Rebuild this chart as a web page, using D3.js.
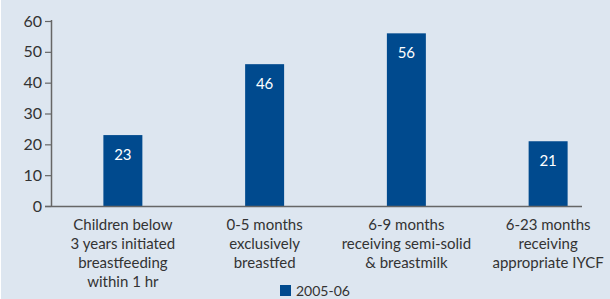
<!DOCTYPE html>
<html lang="en">
<head>
    <meta charset="UTF-8">
    <title>Breastfeeding indicators</title>
    <script src="https://d3js.org/d3.v7.min.js"></script>
    <style>
        html, body { margin: 0; padding: 0; background: #ffffff; }
        svg { display: block; }
    </style>
</head>
<body>
    <script>
        const categories = [
            ["Children below", "3 years initiated", "breastfeeding", "within 1 hr"],
            ["0-5 months", "exclusively", "breastfed"],
            ["6-9 months", "receiving semi-solid", "& breastmilk"],
            ["6-23 months", "receiving", "appropriate IYCF"]
        ];
        const values = [23, 46, 56, 21];
        const yTicks = [0, 10, 20, 30, 40, 50, 60];
        const seriesName = "2005-06";

        const W = 610, H = 299;
        const font = "Lato, 'Open Sans', sans-serif";
        const bg = "#dde6f0";
        const barColor = "#004a8e";
        const textColor = "#333333";

        const svg = d3.select("body").append("svg")
            .attr("width", W)
            .attr("height", H);

        svg.append("rect")
            .attr("x", 1).attr("y", 0)
            .attr("width", W - 1).attr("height", H)
            .attr("fill", bg);

        // scales
        const x = d3.scaleBand()
            .domain(d3.range(values.length))
            .range([52, 619])
            .paddingInner(0.725)
            .paddingOuter(0.3625);

        const y = d3.scaleLinear()
            .domain([0, 60])
            .range([206, 21]);

        // bars
        svg.selectAll("rect.bar")
            .data(values)
            .enter()
            .append("rect")
            .attr("class", "bar")
            .attr("x", (d, i) => x(i))
            .attr("y", d => y(d))
            .attr("width", x.bandwidth())
            .attr("height", d => y(0) - y(d))
            .attr("fill", barColor);

        // value labels
        svg.selectAll("text.val")
            .data(values)
            .enter()
            .append("text")
            .attr("class", "val")
            .attr("x", (d, i) => x(i) + x.bandwidth() / 2)
            .attr("y", d => y(d) + 25)
            .attr("text-anchor", "middle")
            .attr("fill", "#ffffff")
            .style("font-family", font)
            .style("font-size", "15px")
            .text(d => d);

        // y axis
        const yAxis = svg.append("g")
            .attr("transform", "translate(51,0)")
            .call(d3.axisLeft(y).tickValues(yTicks).tickSize(6).tickSizeOuter(0).tickPadding(3));
        yAxis.select(".domain").attr("stroke", "#666").attr("stroke-width", 1.5)
            .attr("d", `M0.5,${y(60) - 1}V${y(0)}`);
        yAxis.selectAll(".tick line").attr("stroke", "#666").attr("stroke-width", 1.2);
        yAxis.selectAll(".tick text")
            .attr("fill", textColor)
            .style("font-family", font)
            .style("font-size", "16px");

        // x axis baseline
        svg.append("line")
            .attr("x1", 45).attr("x2", 582)
            .attr("y1", y(0) + 0.5).attr("y2", y(0) + 0.5)
            .attr("stroke", "#666")
            .attr("stroke-width", 1.5);

        // category labels
        const cat = svg.selectAll("text.cat")
            .data(categories)
            .enter()
            .append("text")
            .attr("class", "cat")
            .attr("text-anchor", "middle")
            .attr("fill", textColor)
            .style("font-family", font)
            .style("font-size", "15px");
        cat.each(function (lines, i) {
            const cx = x(i) + x.bandwidth() / 2;
            d3.select(this).selectAll("tspan")
                .data(lines)
                .enter()
                .append("tspan")
                .attr("x", cx)
                .attr("y", (d, j) => 230 + j * 19)
                .text(d => d);
        });

        // legend
        svg.append("rect")
            .attr("x", 280).attr("y", 285)
            .attr("width", 11).attr("height", 11)
            .attr("fill", barColor);
        svg.append("text")
            .attr("x", 296).attr("y", 295.5)
            .attr("fill", textColor)
            .style("font-family", font)
            .style("font-size", "14px")
            .text(seriesName);
    </script>
</body>
</html>
